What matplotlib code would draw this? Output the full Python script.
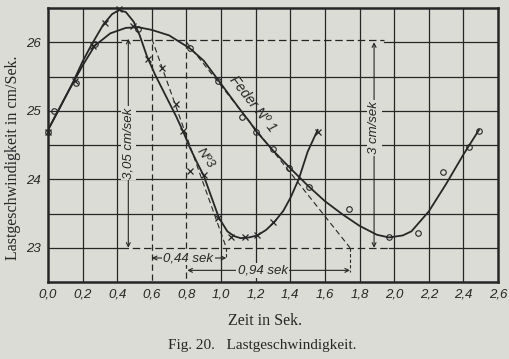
import numpy as np
import matplotlib.pyplot as plt

# curve of "Feder No 1"
f1_x = [0.0, 0.1, 0.2, 0.27, 0.36, 0.45, 0.52, 0.6, 0.7, 0.82, 0.9, 0.98, 1.1, 1.17, 1.2,
        1.3, 1.35, 1.4, 1.5, 1.6, 1.7, 1.8, 1.9, 1.97, 2.05, 2.1, 2.2, 2.3, 2.4, 2.49]
f1_y = [24.72, 25.2, 25.66, 25.95, 26.13, 26.21, 26.22, 26.18, 26.1, 25.91, 25.73, 25.46, 25.05, 24.82, 24.71,
        24.42, 24.29, 24.16, 23.91, 23.68, 23.49, 23.32, 23.19, 23.15, 23.18, 23.24, 23.53, 23.93, 24.36, 24.72]
# measured points, circles
f1_pts_x = [0.0, 0.035, 0.16, 0.27, 0.52, 0.82, 0.98, 1.12, 1.2, 1.3, 1.39, 1.51, 1.74, 1.97, 2.14, 2.28, 2.43, 2.49]
f1_pts_y = [24.69, 25.0, 25.4, 25.97, 26.2, 25.91, 25.44, 24.91, 24.69, 24.44, 24.16, 23.88, 23.56, 23.15, 23.22, 24.1, 24.47, 24.71]

# curve of "No 3"
n3_x = [0.0, 0.07, 0.147, 0.2, 0.253, 0.32, 0.37, 0.41, 0.45, 0.495, 0.53, 0.571, 0.62, 0.66, 0.7, 0.74,
        0.78, 0.82, 0.86, 0.9, 0.95, 0.987, 1.036, 1.075, 1.113, 1.16, 1.21, 1.26, 1.306, 1.36, 1.403, 1.45, 1.5, 1.558]
n3_y = [24.72, 25.05, 25.43, 25.72, 25.97, 26.26, 26.41, 26.47, 26.44, 26.3, 26.1, 25.8, 25.52, 25.32, 25.12, 24.92,
        24.7, 24.46, 24.25, 24.05, 23.7, 23.44, 23.24, 23.17, 23.14, 23.15, 23.18, 23.26, 23.37, 23.54, 23.74, 24.01, 24.4, 24.72]
# measured points, crosses
n3_pts_x = [0.0, 0.156, 0.26, 0.33, 0.41, 0.49, 0.58, 0.66, 0.74, 0.78, 0.82, 0.9, 0.98, 1.06, 1.14, 1.21, 1.3, 1.56]
n3_pts_y = [24.69, 25.43, 25.94, 26.28, 26.49, 26.24, 25.76, 25.63, 25.1, 24.71, 24.12, 24.06, 23.43, 23.15, 23.16, 23.18, 23.37, 24.69]

x_ticks = [0.0, 0.2, 0.4, 0.6, 0.8, 1.0, 1.2, 1.4, 1.6, 1.8, 2.0, 2.2, 2.4, 2.6]
x_labels = ["0,0", "0,2", "0,4", "0,6", "0,8", "1,0", "1,2", "1,4", "1,6", "1,8", "2,0", "2,2", "2,4", "2,6"]
y_ticks = [23, 24, 25, 26]
y_grid = [23.0, 23.5, 24.0, 24.5, 25.0, 25.5, 26.0]

bg = '#dcdcd6'
ink = '#262626'

fig = plt.figure(figsize=(5.1, 3.59), dpi=100, facecolor=bg)
ax = fig.add_axes([48/510, 1-282/359, 450/510, 274/359], facecolor=bg)
ax.set_xlim(0, 2.6)
ax.set_ylim(22.5, 26.5)

# grid, the 0,6 / 0,8 columns and the 23 / 26 rows are partly dashed
for gx in x_ticks[1:-1]:
    if gx == 0.6:
        ax.plot([gx, gx], [26.5, 26.12], color=ink, lw=0.9)
        ax.plot([gx, gx], [26.12, 22.5], color=ink, lw=0.9, dashes=(5, 3))
    elif gx == 0.8:
        ax.plot([gx, gx], [26.5, 26.0], color=ink, lw=0.9)
        ax.plot([gx, gx], [26.0, 22.5], color=ink, lw=0.9, dashes=(5, 3))
    else:
        ax.axvline(gx, color=ink, lw=0.9)
for gy in y_grid:
    if gy == 26.0:
        ax.plot([0, 0.42], [gy, gy], color=ink, lw=0.9)
        ax.plot([0.42, 1.94], [26.03, 26.03], color=ink, lw=0.9, dashes=(6, 3))
        ax.plot([1.94, 2.6], [gy, gy], color=ink, lw=0.9)
    elif gy == 23.0:
        ax.plot([0, 0.42], [gy, gy], color=ink, lw=0.9)
        ax.plot([0.42, 1.97], [gy, gy], color=ink, lw=0.9, dashes=(6, 3))
        ax.plot([1.97, 2.6], [gy, gy], color=ink, lw=0.9)
    else:
        ax.axhline(gy, color=ink, lw=0.9)

# tangents
ax.plot([0.6, 1.03], [26.05, 23.0], color=ink, lw=0.8, dashes=(5, 3))
ax.plot([1.03, 1.03], [23.0, 22.85], color=ink, lw=0.8, dashes=(3, 2))
ax.plot([0.8, 1.745], [26.0, 23.0], color=ink, lw=0.8, dashes=(5, 3))
ax.plot([1.745, 1.745], [23.0, 22.64], color=ink, lw=0.8, dashes=(3, 2))

# curves
ax.plot(f1_x, f1_y, color=ink, lw=1.3)
ax.plot(n3_x, n3_y, color=ink, lw=1.3)
ax.plot(f1_pts_x, f1_pts_y, 'o', ms=4, mfc='none', mec=ink, mew=0.8, clip_on=False)
ax.plot(n3_pts_x, n3_pts_y, 'x', ms=4, mec=ink, mew=0.9, clip_on=False)

hand = dict(family='Liberation Sans', style='italic', color=ink)
arr = dict(arrowstyle='<->', lw=0.8, color=ink, shrinkA=0, shrinkB=0, mutation_scale=7)
box = dict(facecolor=bg, edgecolor='none', pad=1.0)

ax.annotate('', xy=(0.464, 23.0), xytext=(0.464, 26.05), arrowprops=arr)
ax.text(0.464, 24.53, "3,05 cm/sek", rotation=90, ha='center', va='center', fontsize=9.5, bbox=box, **hand)
ax.annotate('', xy=(1.884, 23.0), xytext=(1.884, 26.0), arrowprops=arr)
ax.text(1.884, 24.75, "3 cm/sek", rotation=90, ha='center', va='center', fontsize=9.5, bbox=box, **hand)
ax.annotate('', xy=(0.6, 22.85), xytext=(1.03, 22.85), arrowprops=arr)
ax.text(0.81, 22.85, "0,44 sek", ha='center', va='center', fontsize=9.5, bbox=box, **hand)
ax.annotate('', xy=(0.805, 22.67), xytext=(1.745, 22.67), arrowprops=arr)
ax.text(1.24, 22.67, "0,94 sek", ha='center', va='center', fontsize=9.5, bbox=box, **hand)

ax.text(1.185, 25.1, "Feder N\u00ba 1", rotation=-52, rotation_mode='anchor', ha='center', va='center', fontsize=10, **hand)
ax.text(0.91, 24.3, "N\u00ba3", rotation=-55, rotation_mode='anchor', ha='center', va='center', fontsize=9.5, **hand)

ax.set_xticks(x_ticks)
ax.set_xticklabels(x_labels, **hand, fontsize=9.5)
ax.set_yticks(y_ticks)
ax.set_yticklabels([str(v) for v in y_ticks], **hand, fontsize=9.5)
ax.tick_params(length=0, pad=5)
for s in ax.spines.values():
    s.set_linewidth(1.8)
    s.set_color(ink)

fig.text(13/510, 1-158/359, "Lastgeschwindigkeit in cm/Sek.", rotation=90, ha='center', va='center',
         family='Liberation Serif', fontsize=11.5, color=ink)
fig.text(265/510, 1-321/359, "Zeit in Sek.", ha='center', va='center', family='Liberation Serif', fontsize=11.5, color=ink)
fig.text(262/510, 1-345/359, "Fig. 20.   Lastgeschwindigkeit.", ha='center', va='center',
         family='Liberation Serif', fontsize=11, color=ink)

fig.savefig("out.png", dpi=100, facecolor=bg)
